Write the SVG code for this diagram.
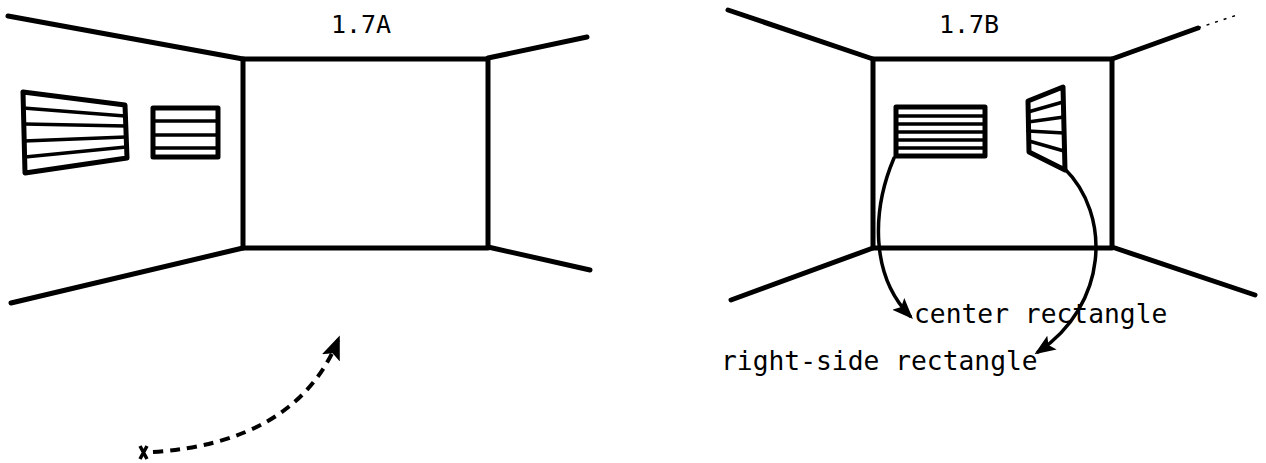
<svg xmlns="http://www.w3.org/2000/svg" width="1266" height="463" viewBox="0 0 1266 463">
<style>
.w{fill:none;stroke:#000;stroke-width:5;stroke-linecap:round;stroke-linejoin:round}
.s{fill:none;stroke:#000;stroke-width:3.5;stroke-linecap:round}
.c{fill:none;stroke:#000;stroke-width:3.5;stroke-linecap:round}
.d{fill:none;stroke:#000;stroke-width:4;stroke-dasharray:10 7}
.t{font-family:"DejaVu Sans Mono","Liberation Mono",monospace;fill:#000}
</style>
<defs>
<marker id="ah" viewBox="0 0 10 10" refX="8" refY="5" markerWidth="6" markerHeight="6" orient="auto" markerUnits="strokeWidth">
<path d="M0,1 L10,5 L0,9 L2,5 Z" fill="#000"/>
</marker>
</defs>
<rect width="1266" height="463" fill="#fff"/>

<g id="roomA">
<rect class="w" x="243" y="59" width="245" height="189"/>
<line class="w" x1="8" y1="16" x2="243" y2="59"/>
<line class="w" x1="11" y1="303" x2="243" y2="248"/>
<line class="w" x1="488" y1="58" x2="587" y2="37"/>
<line class="w" x1="488" y1="247" x2="590" y2="270"/>
<text class="t" x="361" y="33" font-size="25" text-anchor="middle">1.7A</text>
</g>

<g id="windowA1">
<polygon class="w" points="23,92 125,105 127,158 25,173"/>
<line class="s" x1="23" y1="108" x2="125" y2="116"/>
<line class="s" x1="24" y1="124" x2="126" y2="126"/>
<line class="s" x1="24" y1="141" x2="126" y2="137"/>
<line class="s" x1="25" y1="157" x2="126" y2="147"/>
</g>

<g id="windowA2">
<rect class="w" x="153" y="108" width="65" height="49"/>
<line class="s" x1="153" y1="121" x2="218" y2="121"/>
<line class="s" x1="153" y1="135" x2="218" y2="135"/>
<line class="s" x1="153" y1="148" x2="218" y2="148"/>
</g>

<g id="roomB">
<rect class="w" x="873" y="59" width="239" height="189"/>
<line class="w" x1="728" y1="10" x2="873" y2="59"/>
<line class="w" x1="731" y1="300" x2="873" y2="248"/>
<line class="w" x1="1112" y1="59" x2="1198" y2="28"/>
<line stroke="#000" stroke-width="1.5" stroke-dasharray="3 6" x1="1198" y1="28" x2="1240" y2="14"/>
<line class="w" x1="1112" y1="247" x2="1255" y2="295"/>
<text class="t" x="969" y="33" font-size="25" text-anchor="middle">1.7B</text>
</g>

<g id="windowB1">
<rect class="w" x="896" y="107" width="89" height="49"/>
<line class="s" x1="896" y1="116" x2="985" y2="116"/>
<line class="s" x1="896" y1="124" x2="985" y2="124"/>
<line class="s" x1="896" y1="132" x2="985" y2="132"/>
<line class="s" x1="896" y1="140" x2="985" y2="140"/>
<line class="s" x1="896" y1="148" x2="985" y2="148"/>
</g>

<g id="windowB2">
<polygon class="w" points="1028,101 1063,87 1065,170 1029,152"/>
<line class="s" x1="1028" y1="112" x2="1063" y2="102"/>
<line class="s" x1="1028" y1="122" x2="1064" y2="117"/>
<line class="s" x1="1028" y1="131" x2="1064" y2="133"/>
<line class="s" x1="1029" y1="141" x2="1064" y2="151"/>
</g>

<g id="connectors">
<path class="c" d="M894,158 C872,210 870,275 910,316" marker-end="url(#ah)"/>
<path class="c" d="M1064,168 C1112,215 1108,305 1038,352" marker-end="url(#ah)"/>
<path class="d" d="M153,452 C245,446 310,410 338,340" marker-end="url(#ah)"/>
<path d="M140,446 L147,459 M147,446 L140,459" stroke="#000" stroke-width="3.5"/>
</g>

<g id="labels">
<text class="t" x="914" y="323" font-size="26.3">center rectangle</text>
<text class="t" x="721" y="370" font-size="26.3">right-side rectangle</text>
</g>
</svg>
